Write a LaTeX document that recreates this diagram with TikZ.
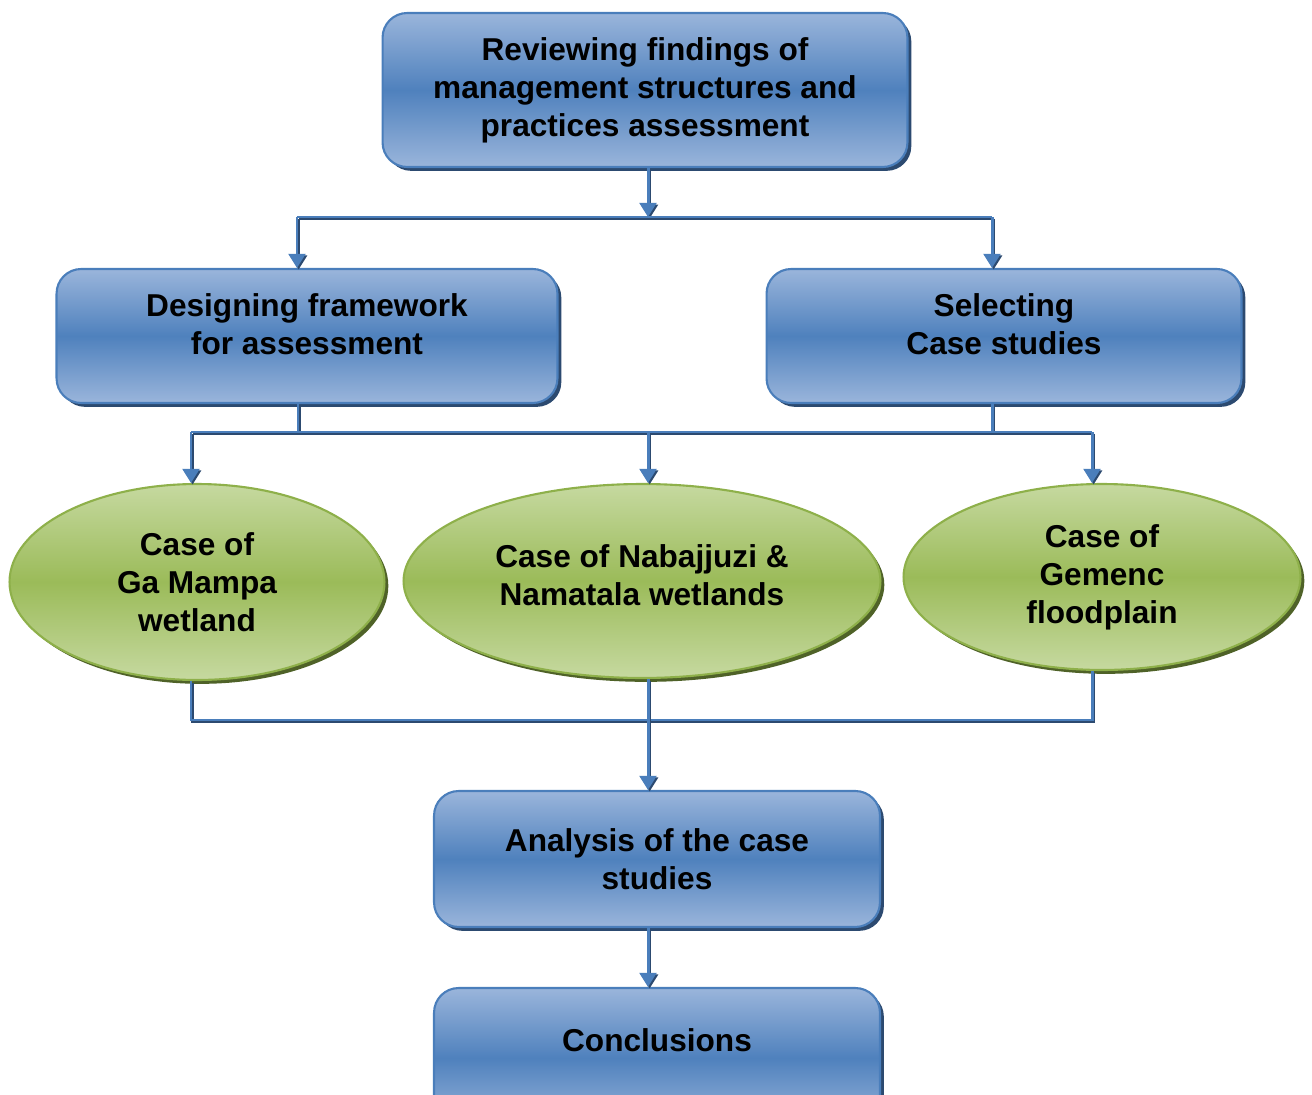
\documentclass[tikz,border=0pt]{standalone}
\usepackage{fontspec}
\setmainfont{Liberation Sans}
\usetikzlibrary{shapes.geometric,shadows,arrows.meta}

\definecolor{boxtop}{HTML}{9AB5DB}
\definecolor{boxmid}{HTML}{4F81BD}
\definecolor{boxedge}{HTML}{4A7EBB}
\definecolor{boxshade}{HTML}{2C4A70}
\definecolor{elltop}{HTML}{C6D9A0}
\definecolor{ellmid}{HTML}{9BBB59}
\definecolor{elledge}{HTML}{8EB04A}
\definecolor{ellshade}{HTML}{4F6228}
\definecolor{linkcol}{HTML}{4A7EBB}

\tikzset{
  label font/.style={font=\bfseries\fontsize{18}{21.6}\selectfont, align=center, text=black},
  stagebox/.style={rectangle, rounded corners=14pt, draw=boxedge, line width=1.2pt,
    top color=boxtop, bottom color=boxtop, middle color=boxmid,
    drop shadow={shadow xshift=2.2pt, shadow yshift=-2.2pt, fill=boxshade, opacity=1},
    label font},
  casebox/.style={ellipse, inner sep=0pt, draw=elledge, line width=1.2pt,
    top color=elltop, bottom color=elltop, middle color=ellmid,
    drop shadow={shadow xshift=2.2pt, shadow yshift=-2.2pt, fill=ellshade, opacity=1},
    label font},
  link/.style={draw=linkcol, line width=1.7pt,
    preaction={draw=boxshade, line width=1.7pt, transform canvas={shift={(0.9pt,-0.9pt)}}}},
  arr/.style={link, -{Triangle[width=9.5pt,length=8pt]}}
}

\begin{document}
\begin{tikzpicture}[x=0.02cm, y=-0.02cm]
\useasboundingbox (0,0) rectangle (1312,1095);
\clip (0,0) rectangle (1312,1095);

% stages
\node[stagebox, minimum width=10.5cm, minimum height=3.08cm] (top) at (645,90)
  {Reviewing findings of\\management structures and\\practices assessment};
\node[stagebox, minimum width=10.02cm, minimum height=2.68cm] (des) at (307,336)
  {Designing framework\\for assessment\\[-0.28cm]};
\node[stagebox, minimum width=9.5cm, minimum height=2.68cm] (sel) at (1004,336)
  {Selecting\\Case studies\\[-0.28cm]};

% case studies
\node[casebox, minimum width=7.5cm, minimum height=3.92cm] (e1) at (197,582)
  {Case of\\Ga Mampa\\wetland};
\node[casebox, minimum width=9.54cm, minimum height=3.88cm] (e2) at (642,581)
  {Case of Nabajjuzi \&\\Namatala wetlands\\[-0.52cm]};
\node[casebox, minimum width=7.94cm, minimum height=3.72cm] (e3) at (1102,577)
  {Case of\\Gemenc\\floodplain};

% synthesis
\node[stagebox, minimum width=8.92cm, minimum height=2.72cm] (ana) at (657,859)
  {Analysis of the case\\studies};
\node[stagebox, minimum width=8.92cm, minimum height=2.8cm] (con) at (657,1058)
  {Conclusions\\[-0.04cm]};

% junction points
\coordinate (j1) at (648,217);
\coordinate (j1l) at (297,217);
\coordinate (j1r) at (992,217);
\coordinate (j2a) at (298,432);
\coordinate (j2b) at (992,432);
\coordinate (j2l) at (191,432);
\coordinate (j2m) at (648,432);
\coordinate (j2r) at (1092,432);
\coordinate (j3l) at (191,720);
\coordinate (j3m) at (648,720);
\coordinate (j3r) at (1092,720);

% connectors
\draw[arr] (top.south -| j1) -- (j1);
\draw[link] (j1l) -- (j1r);
\draw[arr] (j1l) -- (j1l |- des.north);
\draw[arr] (j1r) -- (j1r |- sel.north);

\draw[link] (j2a |- des.south) -- (j2a);
\draw[link] (j2b |- sel.south) -- (j2b);
\draw[link] (j2l) -- (j2r);
\draw[arr] (j2l) -- (j2l |- e1.north);
\draw[arr] (j2m) -- (j2m |- e2.north);
\draw[arr] (j2r) -- (j2r |- e3.north);

\draw[link] (j3l |- e1.south) -- (j3l) -- (j3r) -- (j3r |- e3.south);
\draw[arr] (j3m |- e2.south) -- (j3m |- ana.north);
\draw[arr] (ana.south -| j3m) -- (con.north -| j3m);
\end{tikzpicture}
\end{document}
